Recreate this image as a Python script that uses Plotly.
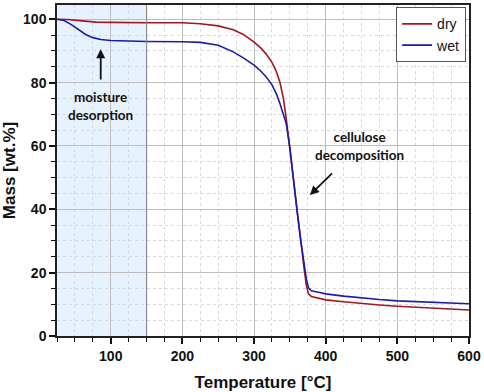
import plotly.graph_objects as go

temp_dry = [25, 40, 60, 80, 100, 125, 150, 200, 225, 250, 271, 285, 300, 310, 317, 325, 331, 336, 341, 345, 350, 355, 360, 365, 370, 373, 376, 380, 390, 400, 425, 450, 475, 500, 550, 600]
mass_dry = [100, 99.9, 99.5, 99.1, 99.0, 98.9, 98.9, 98.9, 98.6, 97.9, 96.7, 95.2, 92.8, 90.8, 89.0, 86.4, 83.6, 80.2, 75.0, 68.5, 59.0, 48.0, 38.5, 29.0, 21.0, 16.0, 13.3, 12.5, 11.9, 11.4, 10.8, 10.2, 9.8, 9.4, 8.8, 8.2]

temp_wet = [25, 35, 45, 55, 65, 75, 86, 100, 125, 150, 200, 225, 250, 271, 285, 300, 310, 317, 325, 331, 336, 341, 345, 350, 355, 360, 365, 370, 373, 376, 380, 390, 400, 425, 450, 475, 500, 550, 600]
mass_wet = [100, 99.6, 98.3, 96.7, 95.2, 94.2, 93.6, 93.3, 93.1, 93.0, 92.9, 92.7, 91.8, 89.7, 87.8, 85.5, 83.5, 81.8, 79.3, 76.5, 73.5, 70.0, 67.0, 59.5, 48.5, 39.5, 30.5, 22.5, 18.0, 15.2, 14.3, 13.8, 13.3, 12.6, 12.0, 11.5, 11.1, 10.6, 10.2]

x_ticks = [100, 200, 300, 400, 500, 600]
y_ticks = [0, 20, 40, 60, 80, 100]

fig = go.Figure()
fig.add_trace(go.Scatter(x=temp_dry, y=mass_dry, mode="lines", name="dry",
                         line=dict(color="#a01820", width=1.6)))
fig.add_trace(go.Scatter(x=temp_wet, y=mass_wet, mode="lines", name="wet",
                         line=dict(color="#1c1ca8", width=1.6)))

# shaded moisture region
fig.add_shape(type="rect", xref="x", yref="paper", x0=25, x1=150, y0=0, y1=1,
              fillcolor="#e6f2fd", line=dict(width=0), layer="below")
fig.add_shape(type="line", xref="x", yref="paper", x0=150, x1=150, y0=0, y1=1,
              line=dict(color="#8c8c8c", width=1.2), layer="above")

ann_font = dict(family="Lato, Open Sans, sans-serif", size=13.5, color="#111111", weight="bold")
fig.add_annotation(x=86, y=72.5, text="moisture<br>desorption", showarrow=False, font=ann_font)
fig.add_annotation(x=86, y=90.5, ax=86, ay=80.5, xref="x", yref="y", axref="x", ayref="y",
                   showarrow=True, arrowhead=2, arrowsize=1, arrowwidth=1.8, arrowcolor="#111111", text="")
fig.add_annotation(x=447, y=60, text="cellulose<br>decomposition", showarrow=False, font=ann_font)
fig.add_annotation(x=378, y=44.5, ax=411, ay=51.8, xref="x", yref="y", axref="x", ayref="y",
                   showarrow=True, arrowhead=2, arrowsize=1, arrowwidth=1.8, arrowcolor="#111111", text="")

tick_font = dict(family="Liberation Sans, Arial, sans-serif", size=14, color="#111111", weight="bold")
title_font = dict(family="Liberation Sans, Arial, sans-serif", size=17, color="#111111", weight="bold")

fig.update_xaxes(range=[25, 600], tickvals=x_ticks, ticks="outside", ticklen=6, tickwidth=1.5,
                 tickcolor="#111111", showline=True, linecolor="#222222", linewidth=1.5, mirror=True,
                 showgrid=True, gridcolor="#bdbdbd", gridwidth=1, zeroline=False,
                 tickfont=tick_font, title=dict(text="Temperature [°C]", font=title_font, standoff=14),
                 minor=dict(dtick=25, tick0=0, ticks="outside", ticklen=4, tickwidth=1.2, tickcolor="#111111",
                            showgrid=True, gridcolor="#d8d8d8", griddash="dot", gridwidth=1))
fig.update_yaxes(range=[0, 104.5], tickvals=y_ticks, ticks="outside", ticklen=6, tickwidth=1.5,
                 tickcolor="#111111", showline=True, linecolor="#222222", linewidth=1.5, mirror=True,
                 showgrid=True, gridcolor="#bdbdbd", gridwidth=1, zeroline=False,
                 tickfont=tick_font, title=dict(text="Mass [wt.%]", font=title_font, standoff=8),
                 minor=dict(dtick=5, tick0=0, ticks="outside", ticklen=4, tickwidth=1.2, tickcolor="#111111",
                            showgrid=True, gridcolor="#d8d8d8", griddash="dot", gridwidth=1))

fig.update_layout(
    width=484, height=392,
    margin=dict(l=56, r=14, t=3, b=56),
    paper_bgcolor="white", plot_bgcolor="white",
    showlegend=True,
    legend=dict(x=0.993, y=0.993, xanchor="right", yanchor="top",
                bgcolor="white", bordercolor="#555555", borderwidth=1,
                font=dict(family="Liberation Sans, Arial, sans-serif", size=14, color="#111111"),
                tracegroupgap=0, itemwidth=30),
)

fig.write_html("out.html", config={"displayModeBar": False},
               post_script="document.body.style.margin='0px';document.body.style.padding='0px';")
